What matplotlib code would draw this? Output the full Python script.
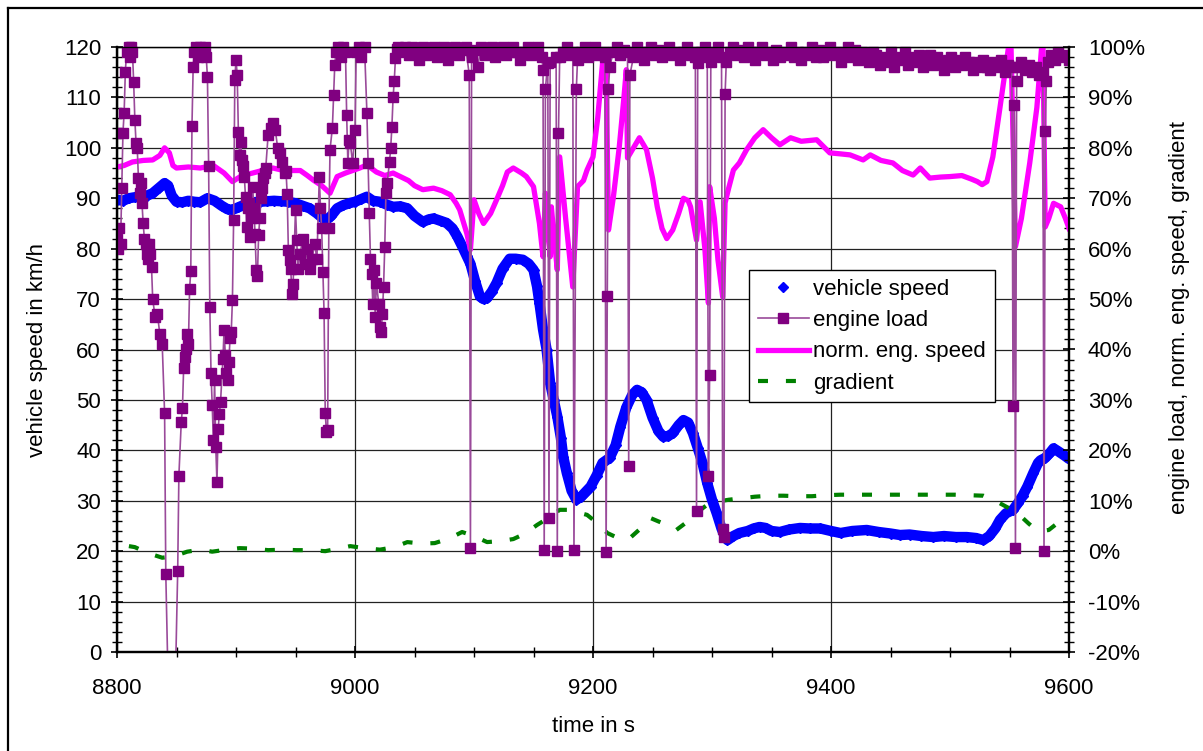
import matplotlib
matplotlib.use('Agg')
import matplotlib.pyplot as plt
from matplotlib.ticker import MultipleLocator, FuncFormatter
from matplotlib.transforms import Bbox, TransformedBbox
from matplotlib.lines import Line2D

# vehicle speed (km/h), left axis
speed_t = [8800, 8805, 8810, 8815, 8820, 8825, 8830, 8835, 8840, 8843, 8846, 8850,
           8855, 8860, 8865, 8870, 8876, 8882, 8888, 8893, 8897, 8902, 8908, 8914,
           8920, 8926, 8932, 8938, 8944, 8950, 8956, 8962, 8968, 8973, 8976, 8980,
           8985, 8990, 8995, 9000, 9005, 9010, 9015, 9021, 9027, 9032, 9038, 9044,
           9050, 9057, 9062, 9066, 9072, 9077, 9082, 9086, 9090, 9094, 9097, 9101,
           9105, 9108, 9111, 9115, 9119, 9124, 9130, 9135, 9141, 9146, 9150, 9153,
           9155, 9158, 9161, 9164, 9167, 9170, 9173, 9175, 9178, 9182, 9186, 9190,
           9194, 9198, 9203, 9208, 9214, 9219, 9223, 9228, 9233, 9237, 9241, 9245,
           9250, 9255, 9259, 9263, 9267, 9272, 9276, 9280, 9284, 9288, 9292, 9296,
           9300, 9304, 9308, 9311, 9313, 9318, 9323, 9330, 9335, 9340, 9345, 9350,
           9357, 9365, 9374, 9382, 9391, 9400, 9408, 9418, 9430, 9440, 9450, 9458,
           9466, 9476, 9486, 9495, 9505, 9514, 9522, 9528, 9533, 9538, 9542, 9547,
           9553, 9557, 9561, 9565, 9570, 9574, 9576, 9580, 9584, 9587, 9591, 9596, 9600]
speed_v = [89.7, 89.5, 90.0, 90.2, 90.5, 90.5, 91.0, 92.0, 93.0, 92.5, 90.5, 89.3,
           89.2, 89.5, 89.3, 89.2, 90.0, 89.5, 88.5, 87.8, 87.7, 88.2, 88.8, 89.2,
           89.3, 89.4, 89.5, 89.4, 89.3, 89.0, 88.5, 88.0, 87.0, 86.0, 85.7, 86.5,
           88.0, 88.6, 89.0, 89.3, 89.8, 90.3, 89.5, 89.3, 88.7, 88.3, 88.4, 88.0,
           86.5, 85.3, 85.8, 86.0, 85.5, 85.1, 84.0, 82.4, 80.5, 78.5, 77.0, 73.5,
           70.5, 70.0, 70.2, 71.5, 73.2, 76.0, 78.0, 78.0, 77.8, 77.0, 75.8, 72.5,
           69.2, 64.0, 60.0, 53.3, 50.0, 46.7, 42.5, 38.7, 35.5, 32.0, 30.2, 30.8,
           31.8, 32.8, 35.0, 37.5, 38.5, 41.0, 44.7, 48.5, 51.0, 52.0, 51.5, 50.0,
           46.5, 43.8, 42.7, 42.8, 43.4, 45.0, 46.0, 45.5, 43.4, 40.5, 37.5, 33.5,
           30.2, 27.5, 24.5, 22.8, 22.2, 23.0, 23.6, 24.0, 24.5, 24.8, 24.6, 24.0,
           23.8, 24.3, 24.6, 24.5, 24.5, 24.0, 23.6, 24.0, 24.2, 23.8, 23.5, 23.2,
           23.3, 23.0, 22.8, 23.0, 22.8, 22.8, 22.6, 22.2, 23.0, 24.5, 26.2, 27.5,
           28.2, 29.5, 31.0, 32.8, 35.5, 37.5, 38.0, 38.5, 39.5, 40.4, 39.8, 39.0, 38.3]

# engine load (%), right axis
load_t = [8800, 8801, 8802, 8803, 8804, 8805, 8806, 8807, 8808, 8810, 8811, 8812,
          8813, 8814, 8815, 8816, 8817, 8818, 8819, 8820, 8821, 8822, 8823, 8824,
          8825, 8826, 8827, 8828, 8829, 8830, 8832, 8834, 8836, 8838, 8840, 8841,
          8846, 8851, 8852, 8854, 8855, 8856, 8857, 8858, 8859, 8860, 8861, 8862,
          8863, 8864, 8865, 8866, 8868, 8870, 8872, 8874, 8875, 8876, 8877, 8878,
          8879, 8880, 8881, 8882, 8883, 8884, 8885, 8886, 8887, 8889, 8890, 8891,
          8892, 8893, 8894, 8895, 8896, 8897, 8898, 8899, 8900, 8901, 8902, 8903,
          8904, 8905, 8906, 8907, 8908, 8909, 8910, 8911, 8912, 8913, 8914, 8915,
          8916, 8917, 8918, 8919, 8920, 8921, 8922, 8923, 8924, 8925, 8927, 8929,
          8931, 8933, 8935, 8937, 8939, 8941, 8942, 8943, 8944, 8945, 8946, 8947,
          8948, 8950, 8951, 8952, 8954, 8956, 8958, 8960, 8962, 8964, 8966, 8968,
          8970, 8971, 8972, 8973, 8974, 8975, 8976, 8977, 8978, 8979, 8981, 8982,
          8983, 8984, 8986, 8988, 8990, 8992, 8993, 8994, 8995, 8996, 8998, 9000,
          9001, 9003, 9005, 9008, 9010, 9011, 9012, 9013, 9014, 9015, 9016, 9017,
          9018, 9020, 9021, 9022, 9023, 9024, 9025, 9026, 9027, 9029, 9030, 9031,
          9032, 9033, 9034, 9035,
          9036, 9039, 9042, 9045, 9048, 9051, 9054, 9057, 9060, 9063, 9066, 9069,
          9072, 9075, 9078, 9081, 9084, 9087, 9090, 9093, 9096, 9097, 9098, 9100,
          9103, 9106, 9109, 9112, 9115, 9118, 9121, 9124, 9127, 9130, 9133, 9136,
          9139, 9142, 9145, 9148, 9151, 9154, 9157, 9158, 9159, 9160, 9162, 9163,
          9164, 9169, 9170, 9171, 9172, 9175, 9178, 9181, 9183, 9184, 9186, 9187,
          9190, 9193, 9196, 9199, 9202, 9205, 9208, 9210, 9211, 9212, 9213, 9214,
          9217, 9220, 9223, 9226, 9229, 9230, 9231, 9234, 9237, 9240, 9243, 9246,
          9249, 9252, 9255, 9258, 9261, 9264, 9267, 9270, 9273, 9276, 9279, 9282,
          9285, 9286, 9287, 9288, 9291, 9294, 9296, 9297, 9298, 9299, 9302, 9305,
          9308, 9309, 9310, 9311, 9312, 9315, 9318, 9321, 9324, 9327, 9330, 9333,
          9336, 9339, 9342, 9345, 9348, 9351, 9354, 9357, 9360, 9363, 9366, 9369,
          9372, 9375, 9378, 9381, 9384, 9387, 9390, 9393, 9396, 9399, 9402, 9405,
          9408, 9411, 9414, 9417, 9420, 9423, 9426, 9429, 9432, 9435, 9438, 9441,
          9444, 9447, 9450, 9453, 9456, 9459, 9462, 9465, 9468, 9471, 9474, 9477,
          9480, 9483, 9486, 9489, 9492, 9495, 9498, 9501, 9504, 9507, 9510, 9513,
          9516, 9519, 9522, 9525, 9528, 9531, 9534, 9537, 9540, 9543, 9546, 9549,
          9552, 9553, 9554, 9555, 9556, 9557, 9560, 9563, 9566, 9569, 9572, 9575,
          9578, 9579, 9580, 9581, 9582, 9585, 9588, 9591, 9594, 9597, 9600]
load_v = [62, 60, 64, 61, 72, 83, 87, 95, 99, 100, 98, 100,
          99, 93, 85.6, 81, 80, 74, 71, 73, 69, 65, 62, 61,
          59, 58, 61, 59, 56.4, 50, 46.5, 47, 43, 41, 27.4, -4.5,
          -60, -4, 15, 25.6, 28.4, 36.3, 38.5, 40, 43, 41, 52, 55.6,
          84.4, 96, 99, 100, 98, 100, 99, 100, 98, 94, 76.4, 48.5,
          35.4, 29, 22, 34, 20.7, 13.7, 24.2, 27.2, 29.6, 38.1, 43.9, 38.9,
          35.4, 34, 37.5, 42.3, 43.5, 49.8, 65.7, 93.5, 97.5, 94.5, 83.2, 78.6,
          81.2, 77.6, 76.4, 74.2, 70.3, 64.3, 68, 69, 62.3, 66, 72.3, 68,
          63, 55.8, 54.5, 62.7, 66, 70, 72, 74, 75, 76, 82.6, 84,
          85, 83.6, 80, 79, 77.2, 75, 75.5, 70.9, 59.8, 57.8, 56, 51,
          53, 67.7, 61.7, 56, 59, 62, 57, 60, 56, 58, 61, 58,
          74.2, 68, 64, 55.4, 47.3, 27.4, 23.6, 24, 64, 79.6, 84, 90.5,
          96.5, 99, 100, 98, 100, 99, 86.5, 77, 81.6, 81, 77, 83.6,
          99, 100, 98, 100, 87, 77, 67, 58, 55, 49, 55.8, 46.5,
          53.2, 49, 44.5, 43.5, 47, 52.4, 60.4, 71, 73, 77.2, 80, 84.2,
          90, 93.3, 97.8, 99.6,
          100, 99, 100, 98.5, 100, 99, 97.5, 100, 98.5, 99.5, 100, 98,
          99, 100, 97.5, 99, 100, 98.5, 99.5, 100, 94.5, 0.6, 98, 99.5,
          96, 100, 98.5, 99.5, 100, 98, 99, 100, 98.5, 99, 100, 99,
          97.5, 99, 100, 98.5, 99.5, 100, 98, 95.5, 0.2, 91.7, 96.9, 6.6,
          97, 98, 0, 83, 98, 99, 100, 98.5, 99, 0.2, 91.7, 97.5,
          99, 100, 98, 99.5, 100, 98.5, 99, 98, -0.2, 50.6, 91.7, 96,
          99, 100, 98.5, 99.5, 99, 16.9, 94.5, 98, 100, 99, 97.5, 99,
          100, 98.5, 99.5, 98, 99, 100, 98.5, 99, 97.5, 99, 100, 98.5,
          99, 98, 8, 96.9, 99, 100, 98, 15, 35, 97, 99, 100,
          98, 4.4, 2.8, 90.7, 97, 99, 100, 98.5, 99.5, 98, 100, 99,
          97.5, 99, 100, 98.5, 99, 97.5, 99.5, 98, 99, 98.5, 100, 98,
          99, 97.5, 99, 98.5, 100, 98, 99.5, 98, 99, 100, 98.5, 99,
          97, 98.5, 100, 98, 99.5, 97.5, 99, 98, 97, 99, 98.5, 96.5,
          98, 97, 99, 96, 98, 97.5, 99, 96.5, 98, 97, 98.5, 96,
          97.5, 98.5, 96.5, 98, 97, 95.5, 97.5, 98, 96, 97.5, 96.5, 98,
          97, 95.5, 97, 96, 97.5, 96, 95.5, 97, 96, 97.5, 95, 96.5,
          96, 28.8, 88.5, 0.6, 93.3, 96, 97, 95.5, 96.5, 95, 96, 94.5,
          95, 0, 83.4, 93.3, 97, 98.5, 97.5, 99, 98, 98.5, 97.5]

# normalised engine speed (%), right axis
nes_t = [8800, 8806, 8813, 8822, 8830, 8836, 8840, 8844, 8847, 8850, 8860, 8870,
         8881, 8890, 8897, 8905, 8914, 8922, 8931, 8940, 8954, 8960, 8965, 8972,
         8979, 8985, 8992, 8998, 9004, 9010, 9018, 9025, 9032, 9038, 9045, 9050,
         9057, 9066, 9073, 9080, 9085, 9088, 9094, 9097, 9100, 9104, 9108, 9114,
         9119, 9124, 9128, 9133, 9140, 9144, 9150, 9155, 9158, 9160, 9162, 9164,
         9165, 9167, 9170, 9172, 9177, 9183, 9187, 9192, 9195, 9200, 9204, 9208,
         9211, 9213, 9217, 9222, 9226, 9228, 9229, 9234, 9239, 9245, 9250, 9254,
         9258, 9262, 9267, 9272, 9276, 9280, 9282, 9287, 9290, 9294, 9297, 9298,
         9302, 9305, 9309, 9311, 9314, 9318, 9323, 9329, 9336, 9343, 9350, 9357,
         9366, 9375, 9388, 9399, 9408, 9416, 9427, 9433, 9442, 9452, 9460, 9469,
         9475, 9483, 9492, 9500, 9510, 9518, 9523, 9527, 9531, 9536, 9542, 9548,
         9551, 9555, 9560, 9567, 9573, 9578, 9580, 9583, 9587, 9593, 9597, 9600]
nes_v = [76.2, 76.5, 77.2, 77.5, 77.6, 78.5, 80.0, 79.0, 76.5, 76.0, 76.2, 76.0,
         76.5, 75.0, 73.3, 74.5, 75.0, 75.5, 76.0, 75.5, 75.5, 74.5, 73.6, 72.5,
         71.0, 74.3, 75.0, 75.5, 76.0, 76.6, 75.2, 74.5, 75.0, 74.3, 73.5, 72.5,
         71.7, 72.0, 71.5, 70.7, 69.0, 67.7, 63.0, 59.8, 69.7, 67.0, 65.0, 67.0,
         69.7, 72.5, 75.2, 76.0, 75.0, 74.3, 72.3, 65.0, 58.4, 71.0, 64.0, 58.4,
         68.3, 63.0, 55.8, 78.2, 66.0, 52.4, 72.3, 73.5, 75.6, 78.2, 86.0, 96.8,
         97.0, 63.7, 70.0, 80.0, 90.0, 95.5, 78.0, 80.0, 82.0, 79.6, 74.0, 68.3,
         64.0, 62.0, 63.7, 67.0, 70.0, 69.5, 68.3, 61.7, 69.3, 60.0, 49.2, 72.3,
         66.0, 57.8, 50.4, 69.1, 72.0, 75.6, 77.0, 79.6, 82.0, 83.6, 82.0, 80.6,
         82.0, 81.3, 81.6, 79.0, 78.8, 78.6, 77.6, 78.6, 77.5, 77.0, 75.5, 74.6,
         76.0, 74.0, 74.2, 74.3, 74.5, 73.8, 73.3, 72.7, 73.3, 78.2, 88.0, 98.0,
         103.0, 60.4, 66.0, 77.0, 88.0, 103.0, 64.3, 66.0, 69.0, 68.3, 66.0, 64.0]

# road gradient (%), right axis
grad_t = [8810, 8815, 8825, 8838, 8848, 8859, 8870, 8880, 8892, 8903, 8915, 8927,
          8939, 8951, 8963, 8975, 8986, 8996, 9008, 9021, 9033, 9044, 9056, 9067,
          9079, 9090, 9100, 9111, 9122, 9133, 9143, 9153, 9164, 9172, 9179, 9187,
          9195, 9204, 9212, 9222, 9231, 9240, 9248, 9259, 9270, 9279, 9287, 9296,
          9304, 9314, 9325, 9336, 9348, 9360, 9372, 9384, 9396, 9408, 9420, 9431,
          9443, 9455, 9468, 9481, 9492, 9504, 9516, 9528, 9538, 9549, 9556, 9561,
          9566, 9571, 9577, 9583, 9590, 9596, 9600]
grad_v = [1.0, 0.8, -0.3, -1.3, -1.0, -0.1, 0.3, -0.1, 0.3, 0.6, 0.5, 0.2,
          0.3, 0.2, 0.2, 0.0, 0.5, 1.0, 0.6, 0.3, 0.8, 1.8, 1.5, 1.6,
          2.5, 3.8, 3.0, 1.8, 2.0, 2.4, 3.5, 5.2, 6.8, 8.2, 8.2, 7.7,
          7.2, 5.5, 3.6, 2.5, 2.6, 4.5, 6.6, 5.5, 4.2, 5.8, 7.6, 9.2,
          9.8, 10.2, 10.5, 10.8, 11.0, 11.0, 10.9, 10.9, 11.1, 11.2, 11.2, 11.2,
          11.2, 11.2, 11.2, 11.2, 11.2, 11.2, 11.1, 11.0, 10.0, 8.6, 7.5, 6.6,
          5.5, 4.5, 4.0, 4.2, 5.5, 6.2, 6.2]

x_ticks = [8800, 9000, 9200, 9400, 9600]

plt.rcParams['font.family'] = ['Liberation Sans', 'DejaVu Sans']
plt.rcParams['font.size'] = 16

W, H = 1203, 751
fig = plt.figure(figsize=(W / 100, H / 100), dpi=100)
ax = fig.add_axes([117 / W, 1 - 652 / H, 952 / W, 605 / H])
ax2 = ax.twinx()

# left axis: vehicle speed
ax.plot(speed_t, speed_v, color='#0000ff', lw=7.5, solid_capstyle='round', label='_nolegend_')
h_speed, = ax.plot(speed_t, speed_v, ls='none', marker='D', ms=5.2, color='#0000ff',
                   label='vehicle speed')

# right axis: percentages
h_nes, = ax2.plot(nes_t, nes_v, color='#ff00ff', lw=3.8, label='norm. eng. speed')
h_grad, = ax2.plot(grad_t, grad_v, color='#008000', lw=3.0, dashes=(2.4, 4.3),
                   label='gradient')
h_load, = ax2.plot(load_t, load_v, color='#9a4a9a', lw=1.2, marker='s', ms=7.2,
                   mfc='#800080', mec='#800080', label='engine load')
h_load.set_clip_box(TransformedBbox(Bbox([[0, 0], [1, 1.018]]), ax2.transAxes))

ax.set_xlim(8800, 9600)
ax.set_ylim(0, 120)
ax2.set_ylim(-20, 100)

ax.set_xticks(x_ticks)
ax.xaxis.set_minor_locator(MultipleLocator(50))
ax.yaxis.set_major_locator(MultipleLocator(10))
ax.yaxis.set_minor_locator(MultipleLocator(2))
ax2.yaxis.set_major_locator(MultipleLocator(10))
ax2.yaxis.set_minor_locator(MultipleLocator(2))
ax2.yaxis.set_major_formatter(FuncFormatter(lambda v, p: f'{v:.0f}%'))

ax.grid(True, which='major', color='#222222', lw=0.9)
ax.set_axisbelow(True)

for a in (ax, ax2):
    a.tick_params(which='major', direction='inout', length=9, width=1.2, color='black')
    a.tick_params(which='minor', direction='inout', length=7, width=1.0, color='black')
    for s in ('left', 'bottom', 'right'):
        a.spines[s].set_linewidth(1.6)
    a.spines['top'].set_linewidth(0.9)
ax.tick_params(axis='y', which='both', pad=7)
ax.tick_params(axis='x', which='both', pad=14)
ax2.tick_params(axis='y', which='both', pad=9)

fig.text(38 / W, 1 - 350 / H, 'vehicle speed in km/h', rotation=90, ha='center', va='center')
fig.text(593 / W, 1 - 727 / H, 'time in s', ha='center', va='center')
fig.text(1180 / W, 1 - 318 / H, 'engine load, norm. eng. speed, gradient', rotation=90,
         ha='center', va='center')

leg = ax2.legend([h_speed, h_load, h_nes, h_grad],
                 ['vehicle speed', 'engine load', 'norm. eng. speed', 'gradient'],
                 loc='upper left', bbox_to_anchor=(749 / W, 1 - 270 / H),
                 bbox_transform=fig.transFigure, borderaxespad=0, numpoints=1,
                 fancybox=False, framealpha=1, edgecolor='black', borderpad=0.4,
                 labelspacing=0.46, handlelength=2.3, handletextpad=0.2)
leg.get_frame().set_linewidth(1.0)

# outer chart frame (only top and left edges fall inside the picture)
fig.add_artist(Line2D([8 / W, 8 / W], [0, 1 - 8 / H], transform=fig.transFigure,
                      color='black', lw=1.6))
fig.add_artist(Line2D([8 / W, 1], [1 - 8 / H, 1 - 8 / H], transform=fig.transFigure,
                      color='black', lw=1.6))

fig.savefig('out.png', dpi=100)
